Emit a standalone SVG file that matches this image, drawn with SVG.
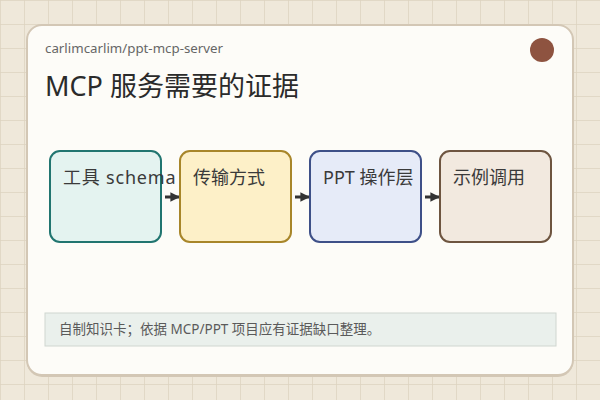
<svg xmlns="http://www.w3.org/2000/svg" width="600" height="400" viewBox="0 0 600 400">
<defs>
<pattern id="grid" width="24" height="24" patternUnits="userSpaceOnUse">
<rect width="24" height="24" fill="#efe8da"/>
<path d="M0 0H24M0 0V24" stroke="#ddd3c0" stroke-width="1.5" fill="none"/>
</pattern>
<marker id="ah" viewBox="0 0 10 10" refX="9" refY="5" markerWidth="3.2" markerHeight="3.2" orient="auto" markerUnits="strokeWidth">
<path d="M0 0L10 5L0 10z" fill="#333333"/>
</marker>
<style>
.t{font-family:"Noto Sans","Noto Sans CJK SC",sans-serif;}
.lbl{font-size:18px;fill:#3a3a3a;}
.box{stroke-width:2;}
.cn{stroke:#333333;stroke-width:3;fill:none;marker-end:url(#ah);}
</style>
</defs>
<rect width="600" height="400" fill="url(#grid)"/>
<rect x="27" y="27" width="546" height="350" rx="15" fill="#d3c7b5"/>
<rect x="27" y="25" width="546" height="350" rx="15" fill="#fdfcf8" stroke="#d3c7b5" stroke-width="2"/>
<circle cx="542" cy="50" r="12" fill="#8e5340"/>
<text class="t" x="45" y="53" font-size="13.3" fill="#666666">carlimcarlim/ppt-mcp-server</text>
<text class="t" x="45" y="96" font-size="27" fill="#2b2b2b">MCP 服务需要的证据</text>
<g id="connectors">
<path class="cn" d="M165 197H179"/>
<path class="cn" d="M295 197H309"/>
<path class="cn" d="M425 197H439"/>
</g>
<g id="n1">
<rect class="box" x="50" y="151" width="111" height="91" rx="10" fill="#e4f3f0" stroke="#217570"/>
<text class="t lbl" x="63" y="184" letter-spacing="0.8">工具 schema</text>
</g>
<g id="n2">
<rect class="box" x="180" y="151" width="111" height="91" rx="10" fill="#fdf0c8" stroke="#a8862a"/>
<text class="t lbl" x="193" y="184">传输方式</text>
</g>
<g id="n3">
<rect class="box" x="310" y="151" width="111" height="91" rx="10" fill="#e6ebf8" stroke="#3e5088"/>
<text class="t lbl" x="323" y="184">PPT 操作层</text>
</g>
<g id="n4">
<rect class="box" x="440" y="151" width="111" height="91" rx="10" fill="#f2e9df" stroke="#6e5540"/>
<text class="t lbl" x="453" y="184">示例调用</text>
</g>
<rect x="45" y="313" width="511" height="33" fill="#eaf0ec" stroke="#d0d6d0" stroke-width="1"/>
<text class="t" x="59" y="334" font-size="13.5" fill="#5a5a5a">自制知识卡；依据 MCP/PPT 项目应有证据缺口整理。</text>
</svg>
